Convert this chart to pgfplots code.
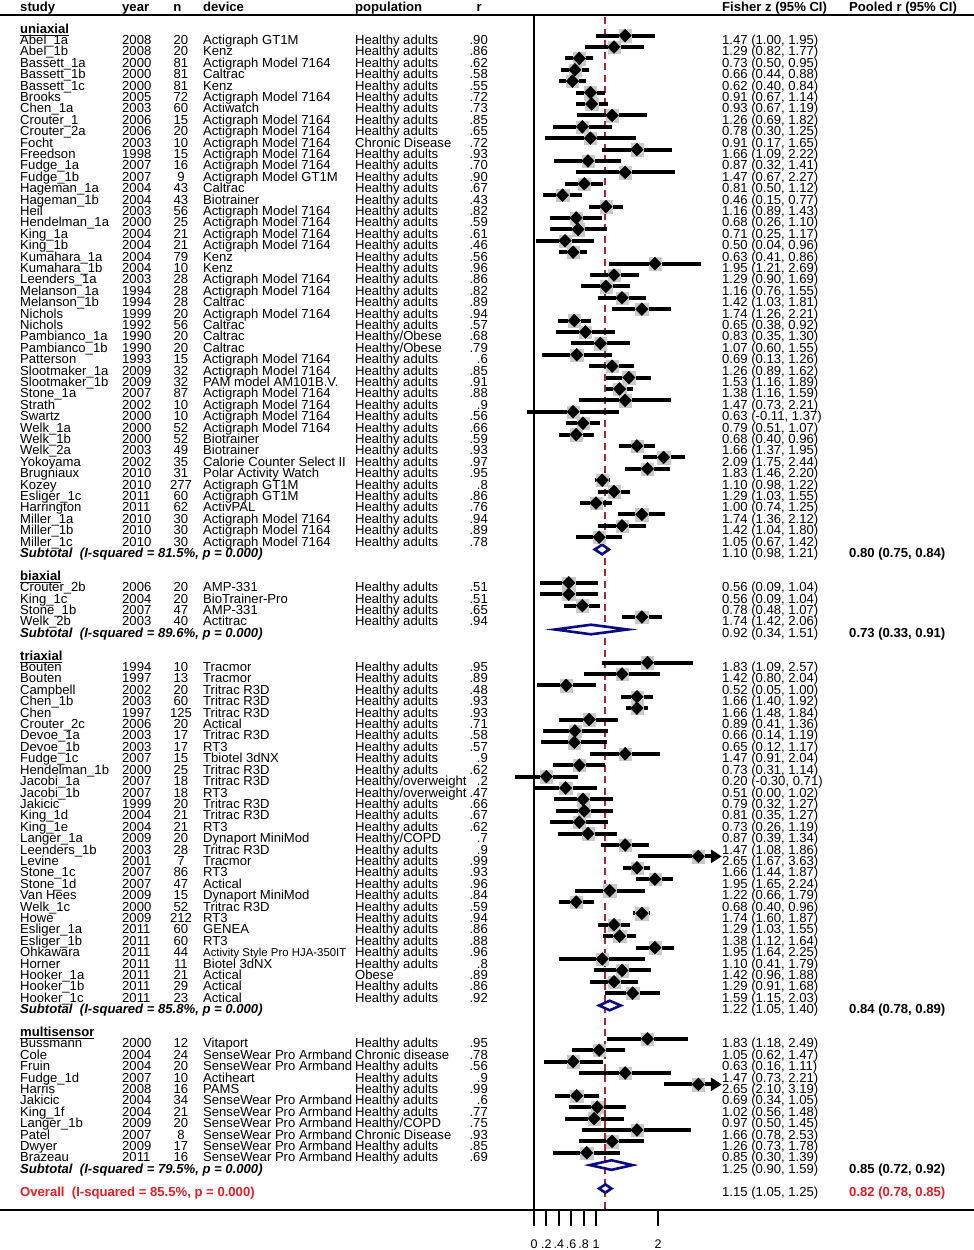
\documentclass[border=0pt]{standalone}
\usepackage{fontspec}
\setmainfont{Liberation Sans}
\usepackage{pgfplots}
\usepackage{pgfplotstable}
\pgfplotsset{compat=1.18}
\usetikzlibrary{arrows.meta}

\definecolor{navyd}{RGB}{10,10,130}
\definecolor{refred}{RGB}{165,40,45}
\definecolor{ovred}{RGB}{232,28,36}
\newcommand{\fs}{\fontsize{13.1}{13}\selectfont}
\newcommand{\ohk}{\fontsize{11.4}{11}\selectfont}
\newcommand{\pn}[1]{\pgfmathprintnumber[fixed,fixed zerofill,precision=2,assume math mode=true]{#1}}

% row = line number from the top (0 = "uniaxial")
\pgfplotstableread[col sep=semicolon]{
row;study;year;n;device;pop;r;z;lo;hi
1;Abel\_1a;2008;20;Actigraph GT1M;Healthy adults;.90;1.47;1.00;1.95
2;Abel\_1b;2008;20;Kenz;Healthy adults;.86;1.29;0.82;1.77
3;Bassett\_1a;2000;81;Actigraph Model 7164;Healthy adults;.62;0.73;0.50;0.95
4;Bassett\_1b;2000;81;Caltrac;Healthy adults;.58;0.66;0.44;0.88
5;Bassett\_1c;2000;81;Kenz;Healthy adults;.55;0.62;0.40;0.84
6;Brooks;2005;72;Actigraph Model 7164;Healthy adults;.72;0.91;0.67;1.14
7;Chen\_1a;2003;60;Actiwatch;Healthy adults;.73;0.93;0.67;1.19
8;Crouter\_1;2006;15;Actigraph Model 7164;Healthy adults;.85;1.26;0.69;1.82
9;Crouter\_2a;2006;20;Actigraph Model 7164;Healthy adults;.65;0.78;0.30;1.25
10;Focht;2003;10;Actigraph Model 7164;Chronic Disease;.72;0.91;0.17;1.65
11;Freedson;1998;15;Actigraph Model 7164;Healthy adults;.93;1.66;1.09;2.22
12;Fudge\_1a;2007;16;Actigraph Model 7164;Healthy adults;.70;0.87;0.32;1.41
13;Fudge\_1b;2007;9;Actigraph Model GT1M;Healthy adults;.90;1.47;0.67;2.27
14;Hageman\_1a;2004;43;Caltrac;Healthy adults;.67;0.81;0.50;1.12
15;Hageman\_1b;2004;43;Biotrainer;Healthy adults;.43;0.46;0.15;0.77
16;Heil;2003;56;Actigraph Model 7164;Healthy adults;.82;1.16;0.89;1.43
17;Hendelman\_1a;2000;25;Actigraph Model 7164;Healthy adults;.59;0.68;0.26;1.10
18;King\_1a;2004;21;Actigraph Model 7164;Healthy adults;.61;0.71;0.25;1.17
19;King\_1b;2004;21;Actigraph Model 7164;Healthy adults;.46;0.50;0.04;0.96
20;Kumahara\_1a;2004;79;Kenz;Healthy adults;.56;0.63;0.41;0.86
21;Kumahara\_1b;2004;10;Kenz;Healthy adults;.96;1.95;1.21;2.69
22;Leenders\_1a;2003;28;Actigraph Model 7164;Healthy adults;.86;1.29;0.90;1.69
23;Melanson\_1a;1994;28;Actigraph Model 7164;Healthy adults;.82;1.16;0.76;1.55
24;Melanson\_1b;1994;28;Caltrac;Healthy adults;.89;1.42;1.03;1.81
25;Nichols;1999;20;Actigraph Model 7164;Healthy adults;.94;1.74;1.26;2.21
26;Nichols;1992;56;Caltrac;Healthy adults;.57;0.65;0.38;0.92
27;Pambianco\_1a;1990;20;Caltrac;Healthy/Obese;.68;0.83;0.35;1.30
28;Pambianco\_1b;1990;20;Caltrac;Healthy/Obese;.79;1.07;0.60;1.55
29;Patterson;1993;15;Actigraph Model 7164;Healthy adults;.6;0.69;0.13;1.26
30;Slootmaker\_1a;2009;32;Actigraph Model 7164;Healthy adults;.85;1.26;0.89;1.62
31;Slootmaker\_1b;2009;32;PAM model AM101B.V.;Healthy adults;.91;1.53;1.16;1.89
32;Stone\_1a;2007;87;Actigraph Model 7164;Healthy adults;.88;1.38;1.16;1.59
33;Strath;2002;10;Actigraph Model 7164;Healthy adults;.9;1.47;0.73;2.21
34;Swartz;2000;10;Actigraph Model 7164;Healthy adults;.56;0.63;-0.11;1.37
35;Welk\_1a;2000;52;Actigraph Model 7164;Healthy adults;.66;0.79;0.51;1.07
36;Welk\_1b;2000;52;Biotrainer;Healthy adults;.59;0.68;0.40;0.96
37;Welk\_2a;2003;49;Biotrainer;Healthy adults;.93;1.66;1.37;1.95
38;Yokoyama;2002;35;Calorie Counter Select II;Healthy adults;.97;2.09;1.75;2.44
39;Brugniaux;2010;31;Polar Activity Watch;Healthy adults;.95;1.83;1.46;2.20
40;Kozey;2010;277;Actigraph GT1M;Healthy adults;.8;1.10;0.98;1.22
41;Esliger\_1c;2011;60;Actigraph GT1M;Healthy adults;.86;1.29;1.03;1.55
42;Harrington;2011;62;ActivPAL;Healthy adults;.76;1.00;0.74;1.25
43;Miller\_1a;2010;30;Actigraph Model 7164;Healthy adults;.94;1.74;1.36;2.12
44;Miller\_1b;2010;30;Actigraph Model 7164;Healthy adults;.89;1.42;1.04;1.80
45;Miller\_1c;2010;30;Actigraph Model 7164;Healthy adults;.78;1.05;0.67;1.42
49;Crouter\_2b;2006;20;AMP-331;Healthy adults;.51;0.56;0.09;1.04
50;King\_1c;2004;20;BioTrainer-Pro;Healthy adults;.51;0.56;0.09;1.04
51;Stone\_1b;2007;47;AMP-331;Healthy adults;.65;0.78;0.48;1.07
52;Welk\_2b;2003;40;Actitrac;Healthy adults;.94;1.74;1.42;2.06
56;Bouten;1994;10;Tracmor;Healthy adults;.95;1.83;1.09;2.57
57;Bouten;1997;13;Tracmor;Healthy adults;.89;1.42;0.80;2.04
58;Campbell;2002;20;Tritrac R3D;Healthy adults;.48;0.52;0.05;1.00
59;Chen\_1b;2003;60;Tritrac R3D;Healthy adults;.93;1.66;1.40;1.92
60;Chen;1997;125;Tritrac R3D;Healthy adults;.93;1.66;1.48;1.84
61;Crouter\_2c;2006;20;Actical;Healthy adults;.71;0.89;0.41;1.36
62;Devoe\_1a;2003;17;Tritrac R3D;Healthy adults;.58;0.66;0.14;1.19
63;Devoe\_1b;2003;17;RT3;Healthy adults;.57;0.65;0.12;1.17
64;Fudge\_1c;2007;15;Tbiotel 3dNX;Healthy adults;.9;1.47;0.91;2.04
65;Hendelman\_1b;2000;25;Tritrac R3D;Healthy adults;.62;0.73;0.31;1.14
66;Jacobi\_1a;2007;18;Tritrac R3D;Healthy/overweight;.2;0.20;-0.30;0.71
67;Jacobi\_1b;2007;18;RT3;Healthy/overweight;.47;0.51;0.00;1.02
68;Jakicic;1999;20;Tritrac R3D;Healthy adults;.66;0.79;0.32;1.27
69;King\_1d;2004;21;Tritrac R3D;Healthy adults;.67;0.81;0.35;1.27
70;King\_1e;2004;21;RT3;Healthy adults;.62;0.73;0.26;1.19
71;Langer\_1a;2009;20;Dynaport MiniMod;Healthy/COPD;.7;0.87;0.39;1.34
72;Leenders\_1b;2003;28;Tritrac R3D;Healthy adults;.9;1.47;1.08;1.86
73;Levine;2001;7;Tracmor;Healthy adults;.99;2.65;1.67;3.63
74;Stone\_1c;2007;86;RT3;Healthy adults;.93;1.66;1.44;1.87
75;Stone\_1d;2007;47;Actical;Healthy adults;.96;1.95;1.65;2.24
76;Van Hees;2009;15;Dynaport MiniMod;Healthy adults;.84;1.22;0.66;1.79
77;Welk\_1c;2000;52;Tritrac R3D;Healthy adults;.59;0.68;0.40;0.96
78;Howe;2009;212;RT3;Healthy adults;.94;1.74;1.60;1.87
79;Esliger\_1a;2011;60;GENEA;Healthy adults;.86;1.29;1.03;1.55
80;Esliger\_1b;2011;60;RT3;Healthy adults;.88;1.38;1.12;1.64
81;Ohkawara;2011;44;{\ohk Activity Style Pro HJA-350IT};Healthy adults;.96;1.95;1.64;2.25
82;Horner;2011;11;Biotel 3dNX;Healthy adults;.8;1.10;0.41;1.79
83;Hooker\_1a;2011;21;Actical;Obese;.89;1.42;0.96;1.88
84;Hooker\_1b;2011;29;Actical;Healthy adults;.86;1.29;0.91;1.68
85;Hooker\_1c;2011;23;Actical;Healthy adults;.92;1.59;1.15;2.03
89;Bussmann;2000;12;Vitaport;Healthy adults;.95;1.83;1.18;2.49
90;Cole;2004;24;SenseWear Pro Armband;Chronic disease;.78;1.05;0.62;1.47
91;Fruin;2004;20;SenseWear Pro Armband;Healthy adults;.56;0.63;0.16;1.11
92;Fudge\_1d;2007;10;Actiheart;Healthy adults;.9;1.47;0.73;2.21
93;Harris;2008;16;PAMS;Healthy adults;.99;2.65;2.10;3.19
94;Jakicic;2004;34;SenseWear Pro Armband;Healthy adults;.6;0.69;0.34;1.05
95;King\_1f;2004;21;SenseWear Pro Armband;Healthy adults;.77;1.02;0.56;1.48
96;Langer\_1b;2009;20;SenseWear Pro Armband;Healthy/COPD;.75;0.97;0.50;1.45
97;Patel;2007;8;SenseWear Pro Armband;Chronic Disease;.93;1.66;0.78;2.53
98;Dwyer;2009;17;SenseWear Pro Armband;Healthy adults;.85;1.26;0.73;1.78
99;Brazeau;2011;16;SenseWear Pro Armband;Healthy adults;.69;0.85;0.30;1.39
}\studies

% subtotals: Fisher z with CI, pooled r with CI
\pgfplotstableread[col sep=semicolon]{
row;z;lo;hi;pr;prlo;prhi
46;1.10;0.98;1.21;0.80;0.75;0.84
53;0.92;0.34;1.51;0.73;0.33;0.91
86;1.22;1.05;1.40;0.84;0.78;0.89
100;1.25;0.90;1.59;0.85;0.72;0.92
}\subt

\pgfplotstableread[col sep=semicolon]{
row;z;lo;hi;pr;prlo;prhi
102;1.15;1.05;1.25;0.82;0.78;0.85
}\overall

\pgfplotsset{
  txt/.style={draw=none, mark=none, nodes near coords,
    every node near coord/.append style={anchor=base west, inner sep=0pt,
      yshift=-4.7pt, font=\fs, text=black}},
  fishertxt/.style={txt,
    visualization depends on={\thisrow{z}\as\zv},
    visualization depends on={\thisrow{lo}\as\lov},
    visualization depends on={\thisrow{hi}\as\hiv},
    nodes near coords={\pn{\zv}\ (\pn{\lov}, \pn{\hiv})}},
  pooledtxt/.style={txt,
    visualization depends on={\thisrow{pr}\as\prv},
    visualization depends on={\thisrow{prlo}\as\prlov},
    visualization depends on={\thisrow{prhi}\as\prhiv},
    nodes near coords={\pn{\prv}\ (\pn{\prlov}, \pn{\prhiv})},
    every node near coord/.append style={font=\fs\bfseries}},
}

\begin{document}
\begin{tikzpicture}[
  hd/.style={anchor=base west, inner sep=0pt, yshift=-4.7pt, font=\fs\bfseries}]
\begin{axis}[
  name=ax,
  scale only axis, width=974pt, height=1210pt,
  xmin=-8.6129, xmax=7.0968, ymin=-103.64, ymax=2.5,
  axis x line*=bottom, axis y line=none,
  x axis line style={-, line width=2.6pt},
  xtick={0,0.2,0.4,0.6,0.8,1,2},
  xticklabels={0,.2,.4,.6,.8,1,2},
  tick align=outside, major tick length=16pt,
  xtick style={line width=2pt, black},
  xticklabel style={font=\fontsize{12.5}{12}\selectfont, inner sep=0pt, yshift=-14pt},
  clip=false,
]
% frame lines
\addplot[black, line width=2.8pt] coordinates {(-8.6129,1.184) (7.0968,1.184)};
\addplot[black, line width=1.8pt] coordinates {(0,1.184) (0,-103.64)};
\addplot[refred, line width=2pt, dash pattern=on 7pt off 4.5pt] coordinates {(1.15,1.0) (1.15,-103.64)};

% study weights, CIs and estimates
\addplot[only marks, mark=square*, mark size=6.2, color=gray!42]
  table[x=z, y expr=-\thisrow{row}+0.36]{\studies};
\addplot[only marks, mark=diamond*, mark size=6.4, black,
  mark options={xscale=1.3, fill=black},
  error bars/.cd, x dir=both, x explicit, error mark=none,
  error bar style={line width=4pt, black}]
  table[x=z, y expr=-\thisrow{row}+0.38,
    x error plus expr={min(\thisrow{hi},2.9)-\thisrow{z}},
    x error minus expr={\thisrow{z}-\thisrow{lo}}]{\studies};
% truncated upper limits
\addplot[black, line width=3pt, -{Triangle[length=11pt,width=13pt]}]
  coordinates {(2.6,-72.62) (3.03,-72.62)};
\addplot[black, line width=3pt, -{Triangle[length=11pt,width=13pt]}]
  coordinates {(2.6,-92.62) (3.03,-92.62)};

% pooled diamonds
\addplot[navyd, line width=2.6pt, fill=white] coordinates {(0.98,-45.7) (1.10,-45.28) (1.21,-45.7) (1.10,-46.12)} --cycle;
\addplot[navyd, line width=2.6pt, fill=white] coordinates {(0.34,-52.72) (0.92,-52.3) (1.51,-52.72) (0.92,-53.14)} --cycle;
\addplot[navyd, line width=2.6pt, fill=white] coordinates {(1.05,-85.7) (1.22,-85.28) (1.40,-85.7) (1.22,-86.12)} --cycle;
\addplot[navyd, line width=2.6pt, fill=white] coordinates {(0.90,-99.7) (1.25,-99.28) (1.59,-99.7) (1.25,-100.12)} --cycle;
\addplot[navyd, line width=2.6pt, fill=white] coordinates {(1.05,-101.76) (1.15,-101.4) (1.25,-101.76) (1.15,-102.12)} --cycle;

% text columns
\addplot[txt, point meta=explicit symbolic] table[x expr=-8.29, y expr=-\thisrow{row}, meta=study]{\studies};
\addplot[txt, point meta=explicit symbolic] table[x expr=-6.645, y expr=-\thisrow{row}, meta=year]{\studies};
\addplot[txt, point meta=explicit symbolic, every node near coord/.append style={anchor=base}]
  table[x expr=-5.694, y expr=-\thisrow{row}, meta=n]{\studies};
\addplot[txt, point meta=explicit symbolic] table[x expr=-5.339, y expr=-\thisrow{row}, meta=device]{\studies};
\addplot[txt, point meta=explicit symbolic] table[x expr=-2.887, y expr=-\thisrow{row}, meta=pop]{\studies};
\addplot[txt, point meta=explicit symbolic, every node near coord/.append style={anchor=base east}]
  table[x expr=-0.742, y expr=-\thisrow{row}, meta=r]{\studies};
\addplot[fishertxt] table[x expr=3.032, y expr=-\thisrow{row}]{\studies};
\addplot[fishertxt] table[x expr=3.032, y expr=-\thisrow{row}]{\subt};
\addplot[fishertxt] table[x expr=3.032, y expr=-\thisrow{row}]{\overall};
\addplot[pooledtxt] table[x expr=5.081, y expr=-\thisrow{row}]{\subt};
\addplot[pooledtxt, every node near coord/.append style={text=ovred}]
  table[x expr=5.081, y expr=-\thisrow{row}]{\overall};

% headers and labels
\node[hd] at (axis cs:-8.29,1.886) {study};
\node[hd] at (axis cs:-6.645,1.886) {year};
\node[hd] at (axis cs:-5.82,1.886) {n};
\node[hd] at (axis cs:-5.339,1.886) {device};
\node[hd] at (axis cs:-2.887,1.886) {population};
\node[hd] at (axis cs:-0.93,1.886) {r};
\node[hd] at (axis cs:3.032,1.886) {Fisher z (95\% CI)};
\node[hd] at (axis cs:5.081,1.886) {Pooled r (95\% CI)};

\node[hd] at (axis cs:-8.29,0) {\underline{uniaxial}};
\node[hd] at (axis cs:-8.29,-48) {\underline{biaxial}};
\node[hd] at (axis cs:-8.29,-55) {\underline{triaxial}};
\node[hd] at (axis cs:-8.29,-88) {\underline{multisensor}};

\node[hd, font=\fs\bfseries\itshape] at (axis cs:-8.29,-46) {Subtotal\ \ (I-squared = 81.5\%, p = 0.000)};
\node[hd, font=\fs\bfseries\itshape] at (axis cs:-8.29,-53) {Subtotal\ \ (I-squared = 89.6\%, p = 0.000)};
\node[hd, font=\fs\bfseries\itshape] at (axis cs:-8.29,-86) {Subtotal\ \ (I-squared = 85.8\%, p = 0.000)};
\node[hd, font=\fs\bfseries\itshape] at (axis cs:-8.29,-100) {Subtotal\ \ (I-squared = 79.5\%, p = 0.000)};
\node[hd, text=ovred] at (axis cs:-8.29,-102) {Overall\ \ (I-squared = 85.5\%, p = 0.000)};
\end{axis}
\pgfresetboundingbox
\useasboundingbox (ax.north west) rectangle ([yshift=-40pt]ax.south east);
\end{tikzpicture}
\end{document}
